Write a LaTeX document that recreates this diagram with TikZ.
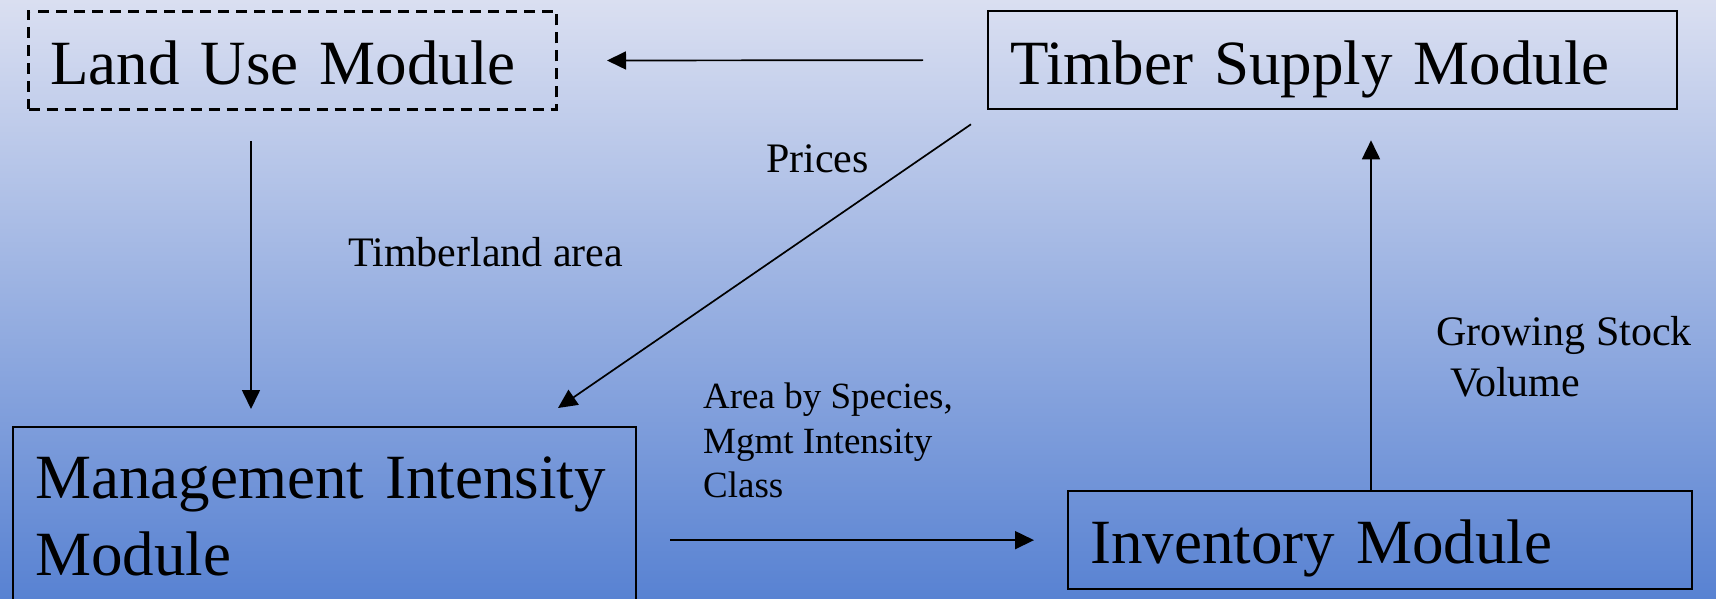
\documentclass[tikz,border=0pt]{standalone}
\usepackage{fontspec}
\setmainfont{Liberation Serif}
\usetikzlibrary{arrows.meta,calc}
\definecolor{bgtop}{RGB}{218,223,241}
\definecolor{bgbot}{RGB}{88,130,210}
\begin{document}
\begin{tikzpicture}[x=1pt,y=-1pt,
  modbox/.style={draw=black,line width=2.3pt,rectangle,inner ysep=0pt,inner xsep=22pt,align=left,font=\fontsize{63}{77}\selectfont,minimum height=98pt},
  dashbox/.style={modbox,dash pattern=on 11pt off 7pt,line width=3pt},
  lbl/.style={inner sep=0pt,align=left,font=\fontsize{42}{51}\selectfont},
  arr/.style={line width=1.7pt,-{Triangle[length=19pt,width=18pt]}}]
\shade[top color=bgtop,bottom color=bgbot] (0,0) rectangle (1716,599);
\useasboundingbox (0,0) rectangle (1716,599);
\clip (0,0) rectangle (1716,599);
\node[dashbox,text width=484pt,text height=48pt,text depth=0pt,anchor=north west] (landuse) at (27,10) {Land Use Module};
\node[modbox,text width=645pt,text height=48pt,text depth=0pt,anchor=north west] (timber) at (987,10) {Timber Supply Module};
\node[modbox,text width=580pt,text height=46pt,text depth=0pt,anchor=north west] (inventory) at (1067,490) {Inventory Module};
\node[modbox,text width=579pt,inner ysep=30pt,anchor=north west] (mgmt) at (12,426) {Management Intensity\\Module};
\node[lbl,anchor=base west] (prices) at (766,172) {Prices};
\node[lbl,anchor=base west] (tarea) at (348,266) {Timberland area};
\node[lbl,anchor=north west] (gsv) at (1436,316) {Growing Stock\\\hspace*{14pt}Volume};
\node[lbl,font=\fontsize{37}{44.5}\selectfont,anchor=north west] (abs) at (703,383) {Area by Species,\\Mgmt Intensity\\Class};
\draw[arr] ([xshift=-64pt]timber.west) -- ([xshift=49pt]landuse.east);
\draw[arr] ([xshift=224pt,yshift=-30pt]landuse.south west) -- ([xshift=239pt,yshift=17pt]mgmt.north west);
\draw[arr] ([xshift=-16pt,yshift=-14pt]timber.south west) -- ([xshift=546pt,yshift=18pt]mgmt.north west);
\draw[arr] ([xshift=33pt]mgmt.east |- inventory.west) -- ([xshift=-33pt]inventory.west);
\draw[arr] ([xshift=304pt]inventory.north west) -- ([xshift=384pt,yshift=-30pt]timber.south west);
\end{tikzpicture}
\end{document}
